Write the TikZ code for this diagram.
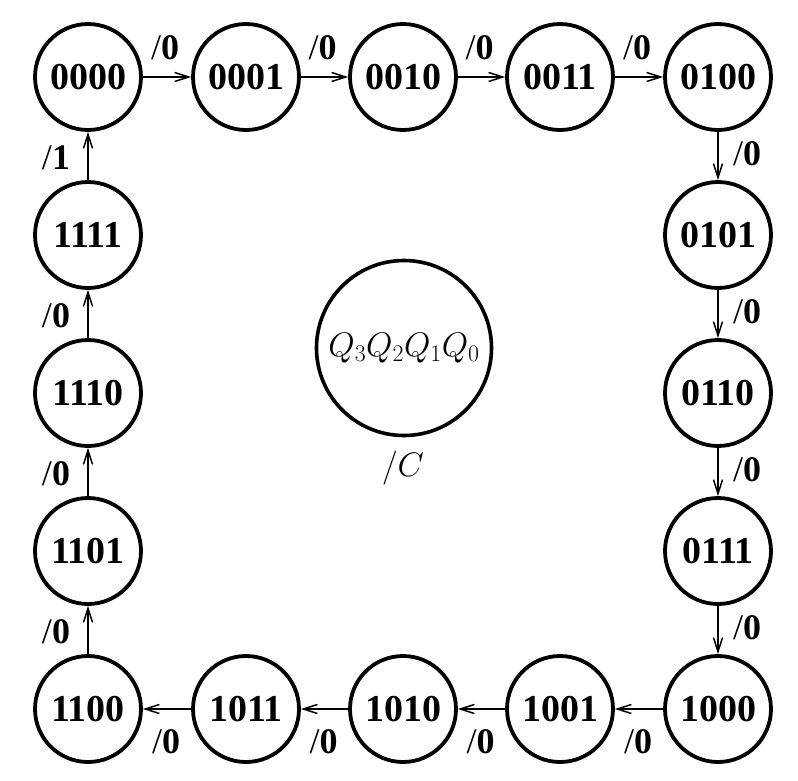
\RequirePackage{fix-cm}
\documentclass[tikz,border=0pt]{standalone}
\usepackage{fontspec}
\setmainfont{Liberation Serif}
\usetikzlibrary{arrows.meta}
\begin{document}
\begin{tikzpicture}[x=1pt,y=-1pt,
  state/.style={circle,draw,line width=3.8pt,minimum size=106pt,inner sep=0pt,
    font=\fontsize{38}{40}\selectfont\bfseries},
  big/.style={circle,draw,line width=3.6pt,minimum size=175pt,inner sep=0pt},
  tr/.style={line width=1.5pt,-{Straight Barb[length=14pt,width=9pt,line width=1.5pt]}},
  lab/.style={font=\fontsize{36}{38}\selectfont,inner sep=0pt}]
\useasboundingbox (0,0) rectangle (798,780);
% top row
\node[state] (s0) at (88,77) {0000};
\node[state] (s1) at (246,77) {0001};
\node[state] (s2) at (403,77) {0010};
\node[state] (s3) at (560,77) {0011};
\node[state] (s4) at (718,77) {0100};
% right column
\node[state] (s5) at (718,235) {0101};
\node[state] (s6) at (718,393) {0110};
\node[state] (s7) at (718,551) {0111};
\node[state] (s8) at (718,709) {1000};
% bottom row
\node[state] (s9) at (560,709) {1001};
\node[state] (s10) at (403,709) {1010};
\node[state] (s11) at (246,709) {1011};
\node[state] (s12) at (88,709) {1100};
% left column
\node[state] (s13) at (88,551) {1101};
\node[state] (s14) at (88,393) {1110};
\node[state] (s15) at (88,235) {1111};
% legend
\node[big,font=\fontsize{34}{36}\selectfont] (leg) at (404,348) {$Q_3Q_2Q_1Q_0$};
\node[lab,font=\fontsize{34}{36}\selectfont] (legl) at (403,468) {$/C$};
% transitions
\foreach \a/\b in {s0/s1,s1/s2,s2/s3,s3/s4}
  \draw[tr] (\a) -- node[lab,yshift=29pt,xshift=-2pt]{/\textbf{0}} (\b);
\foreach \a/\b in {s4/s5,s5/s6,s6/s7,s7/s8}
  \draw[tr] (\a) -- node[lab,xshift=29pt,yshift=2pt]{/\textbf{0}} (\b);
\foreach \a/\b in {s8/s9,s9/s10,s10/s11,s11/s12}
  \draw[tr] (\a) -- node[lab,yshift=-33pt,xshift=-1pt]{/\textbf{0}} (\b);
\foreach \a/\b in {s12/s13,s13/s14,s14/s15}
  \draw[tr] (\a) -- node[lab,xshift=-32pt,yshift=-2pt]{/\textbf{0}} (\b);
\draw[tr] (s15) -- node[lab,xshift=-32pt,yshift=-2pt]{/\textbf{1}} (s0);
\end{tikzpicture}
\end{document}
